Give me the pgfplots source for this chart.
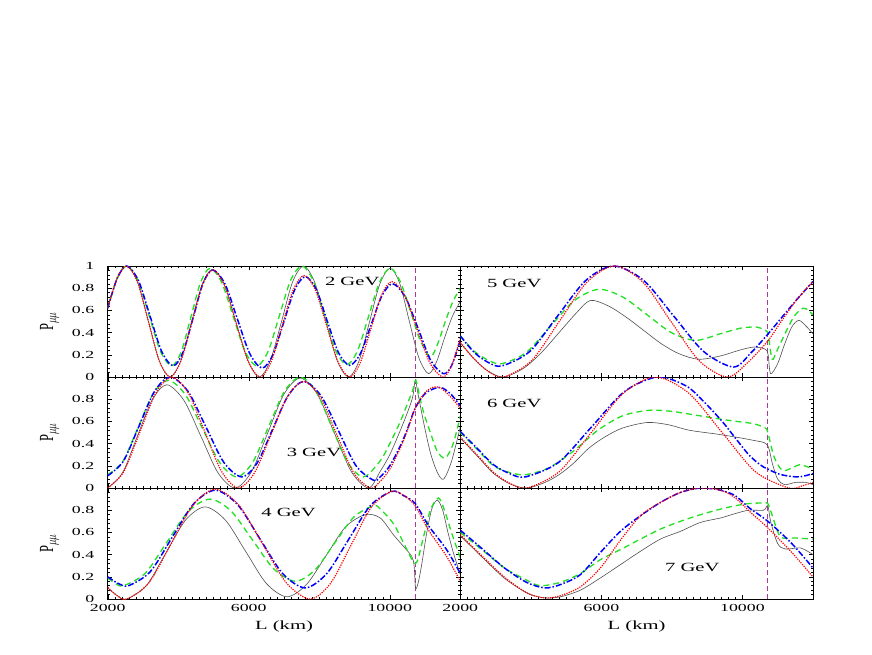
\documentclass[border=0pt]{standalone}
\usepackage{fontspec}
\setmainfont{Liberation Serif}
\usepackage{graphicx}
\usepackage{pgfplots}
\pgfplotsset{compat=1.18}
\definecolor{cmbline}{RGB}{170,60,150}
\definecolor{pgreen}{HTML}{22E022}
\definecolor{pgray}{HTML}{505050}

% the reference text is stretched sideways
\newcommand{\sx}[1]{\scalebox{1.65}[1]{#1}}

\pgfplotsset{
  panel/.style={
    scale only axis, width=352.6pt, height=111pt,
    xmin=2000, xmax=12000, ymin=0, ymax=1,
    xtick={2000,6000,10000}, minor x tick num=19,
    ytick={0,0.2,0.4,0.6,0.8,1}, minor y tick num=4,
    scaled x ticks=false, scaled y ticks=false,
    tick align=inside,
    major tick length=4pt, minor tick length=2pt,
    tick style={black, line width=0.4pt},
    axis line style={line width=0.6pt},
    xticklabels={}, yticklabels={},
    tick label style={font=\fontsize{10.8}{12}\selectfont},
    yticklabel style={xshift=-10pt},
    xticklabel style={yshift=-2pt},
    every axis y label/.style={at={(axis description cs:-0.165,0.5)}, anchor=center,
      rotate=90, font=\fontsize{12.5}{14}\selectfont},
    every axis x label/.style={at={(axis description cs:0.5,-0.25)}, anchor=center,
      font=\fontsize{12.5}{14}\selectfont},
  },
  ylab/.style={ylabel={\scalebox{1}[1.6]{P$_{\mu\mu}$}}},
  xlab/.style={xticklabels={\sx{2000},\sx{6000},\sx{10000}}, xlabel={\sx{L (km)}}},
  cblk/.style={pgray, line width=0.6pt, smooth, no marks},
  cgrn/.style={pgreen, line width=1.3pt, dash pattern=on 6pt off 4pt, smooth, no marks},
  cblu/.style={blue, line width=1.5pt, dash pattern=on 6pt off 2pt on 1.5pt off 2pt, smooth, no marks},
  cred/.style={red, line width=1.2pt, dash pattern=on 1.2pt off 1.2pt, smooth, no marks},
}
\newcommand{\elabel}[3]{\node[font=\fontsize{12.5}{14}\selectfont] at (axis cs:#1,#2) {\sx{#3}};}
\newcommand{\cmbplot}{\addplot[color=cmbline, line width=0.9pt, dash pattern=on 5pt off 3pt, mark=none] coordinates {(10720,0) (10720,1)};}

\begin{document}
\begin{tikzpicture}
\fill[white] (0,0) rectangle (872pt,654pt);
\path[use as bounding box] (0,0) rectangle (872pt,654pt);

% ---------- 2 GeV ----------
\begin{axis}[panel, ylab, at={(107.7pt,277pt)}, anchor=south west,
  yticklabels={\sx{0},\sx{0.2},\sx{0.4},\sx{0.6},\sx{0.8},\sx{1}}]
\cmbplot
\addplot[cblk] coordinates {(2000,0.62) (2270,0.89) (2540,1.0) (2848,0.854) (3155,0.5) (3463,0.146) (3770,0.0) (4072,0.145) (4375,0.49) (4677,0.83) (4970,0.97) (5310,0.83) (5640,0.49) (5980,0.145) (6300,0.0) (6610,0.146) (6930,0.5) (7240,0.854) (7553,1.0) (7870,0.854) (8190,0.5) (8510,0.146) (8830,0.0) (9125,0.143) (9420,0.49) (9720,0.84) (10013,0.98) (10285,0.84) (10556,0.5) (10828,0.17) (11100,0.03) (11330,0.14) (11550,0.35) (11780,0.55) (12000,0.68)};
\addplot[cgrn] coordinates {(2000,0.62) (2270,0.89) (2540,1.0) (2859,0.87) (3178,0.55) (3497,0.23) (3816,0.1) (4088,0.23) (4360,0.54) (4632,0.85) (4904,0.98) (5235,0.85) (5566,0.54) (5897,0.23) (6229,0.1) (6548,0.23) (6867,0.55) (7187,0.87) (7506,1.0) (7825,0.87) (8144,0.555) (8464,0.24) (8783,0.11) (9090,0.24) (9398,0.545) (9705,0.85) (10013,0.98) (10297,0.86) (10580,0.6) (10722,0.46) (10864,0.33) (11148,0.18) (11360,0.3) (11575,0.5) (11790,0.68) (12000,0.8)};
\addplot[cblu] coordinates {(2000,0.62) (2270,0.89) (2540,1.0) (2870,0.87) (3200,0.55) (3530,0.23) (3860,0.1) (4140,0.226) (4420,0.53) (4700,0.84) (4980,0.965) (5330,0.836) (5680,0.52) (6030,0.21) (6380,0.08) (6685,0.2) (6990,0.49) (7295,0.78) (7600,0.905) (7915,0.79) (8230,0.5) (8545,0.22) (8860,0.105) (9165,0.21) (9470,0.47) (9775,0.73) (10080,0.84) (10440,0.72) (10800,0.44) (11160,0.15) (11520,0.03) (11750,0.1) (12000,0.33)};
\addplot[cred] coordinates {(2000,0.62) (2270,0.89) (2540,1.0) (2848,0.854) (3155,0.5) (3463,0.146) (3770,0.0) (4072,0.141) (4375,0.48) (4677,0.824) (4980,0.965) (5315,0.824) (5650,0.48) (5985,0.141) (6320,0.0) (6632,0.134) (6945,0.457) (7257,0.781) (7570,0.915) (7892,0.781) (8215,0.457) (8537,0.134) (8860,0.0) (9160,0.126) (9460,0.43) (9760,0.734) (10060,0.86) (10420,0.734) (10780,0.43) (11140,0.126) (11500,0.0) (11750,0.1) (12000,0.35)};
\elabel{8935}{0.86}{2 GeV}
\end{axis}

% ---------- 3 GeV ----------
\begin{axis}[panel, ylab, at={(107.7pt,166pt)}, anchor=south west,
  yticklabels={\sx{0},\sx{0.2},\sx{0.4},\sx{0.6},\sx{0.8},}]
\cmbplot
\addplot[cblk] coordinates {(2000,0.0) (2419,0.136) (2838,0.465) (3256,0.79) (3675,0.93) (4160,0.79) (4645,0.465) (5130,0.136) (5614,0.0) (6075,0.145) (6537,0.495) (6998,0.845) (7460,0.99) (7945,0.845) (8430,0.495) (8915,0.145) (9400,0.0) (9729,0.15) (10000,0.3) (10300,0.52) (10500,0.68) (10650,0.82) (10723,0.97) (10800,0.85) (10960,0.59) (11150,0.32) (11350,0.14) (11527,0.08) (11750,0.24) (12000,0.55)};
\addplot[cgrn] coordinates {(2000,0.12) (2430,0.24) (2860,0.545) (3290,0.85) (3720,0.97) (4205,0.84) (4690,0.535) (5175,0.23) (5660,0.1) (6110,0.23) (6560,0.55) (7010,0.87) (7460,1.0) (7909,0.87) (8358,0.55) (8807,0.23) (9256,0.1) (9729,0.245) (10000,0.4) (10300,0.6) (10550,0.8) (10650,0.88) (10740,0.97) (10850,0.82) (10960,0.68) (11150,0.5) (11350,0.33) (11575,0.27) (11800,0.4) (12000,0.65)};
\addplot[cblu] coordinates {(2000,0.11) (2442,0.24) (2885,0.555) (3327,0.87) (3770,1.0) (4278,0.87) (4786,0.55) (5295,0.23) (5803,0.1) (6240,0.226) (6678,0.53) (7115,0.83) (7553,0.96) (8050,0.83) (8546,0.515) (9043,0.2) (9540,0.07) (9729,0.1) (10000,0.2) (10300,0.38) (10500,0.53) (10723,0.72) (11000,0.85) (11300,0.9) (11500,0.9) (11750,0.84) (12000,0.74)};
\addplot[cred] coordinates {(2000,0.0) (2454,0.146) (2908,0.5) (3362,0.854) (3816,1.0) (4289,0.854) (4762,0.5) (5235,0.146) (5708,0.0) (6169,0.14) (6630,0.48) (7092,0.82) (7553,0.96) (8026,0.82) (8499,0.48) (8972,0.14) (9445,0.0) (9729,0.06) (10000,0.17) (10300,0.36) (10500,0.52) (10723,0.72) (11000,0.86) (11250,0.91) (11450,0.9) (11700,0.83) (12000,0.72)};
\elabel{7850}{0.32}{3 GeV}
\end{axis}

% ---------- 4 GeV ----------
\begin{axis}[panel, ylab, xlab, at={(107.7pt,55pt)}, anchor=south west,
  yticklabels={\sx{0},\sx{0.2},\sx{0.4},\sx{0.6},\sx{0.8},}]
\cmbplot
\addplot[cblk] coordinates {(2000,0.1) (2270,0.03) (2540,0.0) (3095,0.12) (3650,0.415) (4205,0.71) (4762,0.83) (5340,0.71) (5920,0.425) (6500,0.14) (7080,0.02) (7636,0.13) (8192,0.39) (8747,0.65) (9303,0.76) (9729,0.73) (10100,0.58) (10400,0.47) (10620,0.385) (10690,0.3) (10730,0.1) (10800,0.14) (10900,0.3) (11050,0.6) (11200,0.82) (11353,0.89) (11500,0.8) (11650,0.6) (11800,0.42) (12000,0.22)};
\addplot[cgrn] coordinates {(2000,0.19) (2220,0.14) (2445,0.12) (3060,0.23) (3675,0.51) (4290,0.79) (4904,0.9) (5507,0.79) (6110,0.53) (6714,0.27) (7317,0.16) (7873,0.26) (8429,0.5) (8985,0.74) (9540,0.84) (9730,0.81) (10100,0.68) (10400,0.5) (10620,0.36) (10722,0.32) (10800,0.36) (10950,0.55) (11150,0.8) (11380,0.91) (11550,0.8) (11750,0.6) (12000,0.37)};
\addplot[cblu] coordinates {(2000,0.2) (2300,0.14) (2590,0.12) (3204,0.245) (3818,0.55) (4432,0.855) (5046,0.98) (5684,0.85) (6322,0.54) (6960,0.23) (7600,0.1) (8215,0.23) (8830,0.535) (9445,0.84) (10060,0.97) (10400,0.93) (10722,0.86) (11100,0.66) (11600,0.45) (12000,0.23)};
\addplot[cred] coordinates {(2000,0.106) (2270,0.03) (2540,0.0) (3167,0.145) (3793,0.495) (4420,0.845) (5046,0.99) (5720,0.845) (6394,0.495) (7068,0.145) (7742,0.0) (8322,0.142) (8901,0.485) (9481,0.83) (10060,0.97) (10400,0.93) (10722,0.84) (11100,0.62) (11600,0.39) (12000,0.16)};
\elabel{7130}{0.78}{4 GeV}
\end{axis}

% ---------- 5 GeV ----------
\begin{axis}[panel, at={(460.3pt,277pt)}, anchor=south west]
\cmbplot
\addplot[cblk] coordinates {(2000,0.31) (2400,0.16) (2800,0.05) (3230,0.0) (3800,0.08) (4300,0.22) (4800,0.4) (5300,0.58) (5690,0.69) (6200,0.64) (6700,0.54) (7200,0.42) (7700,0.3) (8200,0.21) (8760,0.16) (9380,0.19) (9900,0.24) (10326,0.27) (10650,0.25) (10730,0.2) (10800,0.03) (11000,0.12) (11180,0.28) (11400,0.45) (11600,0.51) (11800,0.46) (12000,0.39)};
\addplot[cgrn] coordinates {(2000,0.37) (2400,0.23) (2800,0.15) (3180,0.12) (3866,0.22) (4552,0.455) (5240,0.69) (5925,0.79) (6610,0.72) (7300,0.56) (7985,0.4) (8670,0.33) (9380,0.39) (9950,0.44) (10400,0.45) (10650,0.42) (10733,0.38) (10845,0.16) (11000,0.25) (11300,0.45) (11500,0.56) (11720,0.62) (11870,0.6) (12000,0.56)};
\addplot[cblu] coordinates {(2000,0.37) (2400,0.22) (2800,0.13) (3180,0.1) (3970,0.23) (4760,0.55) (5560,0.87) (6350,1.0) (7200,0.87) (8050,0.55) (8900,0.23) (9750,0.09) (10250,0.22) (10733,0.39) (11100,0.53) (11550,0.7) (12000,0.86)};
\addplot[cred] coordinates {(2000,0.31) (2400,0.16) (2800,0.05) (3230,0.0) (4018,0.146) (4805,0.5) (5592,0.854) (6380,1.0) (7180,0.854) (7975,0.5) (8775,0.146) (9570,0.0) (10150,0.13) (10733,0.33) (11100,0.5) (11550,0.7) (12000,0.86)};
\elabel{3530}{0.84}{5 GeV}
\end{axis}

% ---------- 6 GeV ----------
\begin{axis}[panel, at={(460.3pt,166pt)}, anchor=south west]
\cmbplot
\addplot[cblk] coordinates {(2000,0.45) (2473,0.29) (2946,0.13) (3419,0.035) (3892,0.0) (4400,0.05) (4800,0.12) (5200,0.22) (5650,0.36) (6100,0.46) (6600,0.54) (7300,0.59) (7900,0.57) (8500,0.52) (9400,0.48) (10300,0.43) (10700,0.39) (10850,0.22) (11000,0.08) (11200,0.03) (11500,0.05) (11800,0.05) (12000,0.03)};
\addplot[cgrn] coordinates {(2000,0.5) (2470,0.35) (2940,0.2) (3400,0.14) (3845,0.12) (4500,0.18) (5200,0.33) (5900,0.52) (6600,0.65) (7345,0.7) (8000,0.69) (8800,0.65) (9600,0.61) (10300,0.58) (10650,0.54) (10722,0.5) (10900,0.28) (11130,0.16) (11400,0.18) (11650,0.21) (12000,0.17)};
\addplot[cblu] coordinates {(2000,0.51) (2470,0.36) (2940,0.21) (3400,0.13) (3845,0.1) (4784,0.23) (5722,0.55) (6660,0.87) (7600,1.0) (8400,0.92) (8900,0.78) (9426,0.6) (9800,0.45) (10180,0.3) (10500,0.21) (10722,0.17) (11100,0.12) (11600,0.1) (12000,0.13)};
\addplot[cred] coordinates {(2000,0.46) (2473,0.3) (2946,0.14) (3419,0.04) (3892,0.0) (4802,0.146) (5713,0.5) (6623,0.854) (7534,1.0) (8480,0.854) (9426,0.5) (10372,0.146) (11318,0.0) (11700,0.02) (12000,0.05)};
\elabel{3530}{0.76}{6 GeV}
\end{axis}

% ---------- 7 GeV ----------
\begin{axis}[panel, xlab, at={(460.3pt,55pt)}, anchor=south west]
\cmbplot
\addplot[cblk] coordinates {(2000,0.57) (2640,0.37) (3280,0.18) (3920,0.05) (4400,0.01) (4839,0.02) (5407,0.08) (5975,0.19) (6542,0.31) (7110,0.43) (7678,0.54) (8245,0.61) (8813,0.69) (9381,0.73) (9800,0.77) (10183,0.8) (10600,0.8) (10722,0.84) (10800,0.7) (11000,0.5) (11223,0.45) (11650,0.46) (12000,0.4)};
\addplot[cgrn] coordinates {(2000,0.6) (2630,0.44) (3250,0.28) (3880,0.17) (4271,0.12) (4839,0.15) (5407,0.23) (5975,0.355) (6542,0.445) (7110,0.54) (7678,0.63) (8245,0.7) (8813,0.76) (9381,0.81) (9800,0.84) (10183,0.86) (10600,0.865) (10722,0.86) (10850,0.75) (11082,0.56) (11500,0.55) (12000,0.54)};
\addplot[cblu] coordinates {(2000,0.62) (2630,0.45) (3250,0.28) (3880,0.15) (4400,0.1) (4839,0.13) (5407,0.22) (5975,0.42) (6542,0.61) (7110,0.75) (7678,0.87) (8245,0.96) (8813,1.0) (9381,0.98) (9800,0.93) (10200,0.82) (10722,0.7) (11400,0.5) (12000,0.28)};
\addplot[cred] coordinates {(2000,0.58) (2640,0.38) (3280,0.19) (3920,0.05) (4400,0.01) (4839,0.03) (5407,0.11) (5975,0.28) (6542,0.53) (7110,0.75) (7678,0.87) (8245,0.96) (8780,1.0) (9381,0.98) (9800,0.91) (10200,0.79) (10722,0.64) (11400,0.42) (12000,0.2)};
\elabel{8580}{0.285}{7 GeV}
\end{axis}
\end{tikzpicture}
\end{document}
